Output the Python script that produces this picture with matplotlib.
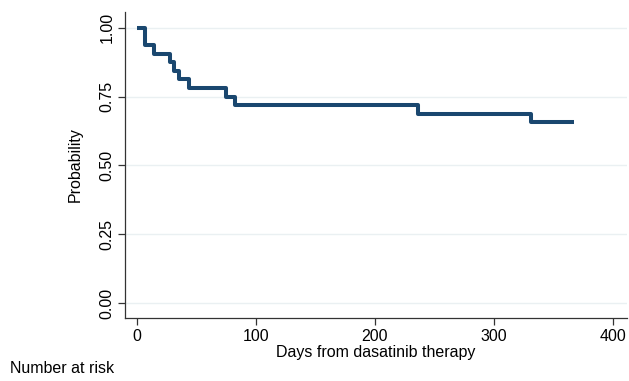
import matplotlib
matplotlib.use("Agg")
import matplotlib.pyplot as plt

# Kaplan-Meier estimate
days = [0, 7, 14, 28, 31, 35, 44, 75, 82, 236, 331, 367]
surv = [1.0, 0.9375, 0.906, 0.875, 0.844, 0.8125, 0.781, 0.75, 0.719, 0.6875, 0.656, 0.656]
yticks = [0.0, 0.25, 0.5, 0.75, 1.0]
ytick_labels = ["0.00", "0.25", "0.50", "0.75", "1.00"]
xticks = [0, 100, 200, 300, 400]

plt.rcParams['font.family'] = ['Liberation Sans', 'DejaVu Sans']

fig = plt.figure(figsize=(6.29, 3.81), dpi=100)
ax = fig.add_axes([0.199, 0.165, 0.798, 0.804])

navy = "#1a476f"
axcol = "#333333"

ax.step(days, surv, where="post", color=navy, lw=2.9, solid_capstyle="butt", zorder=3)

ax.set_xlim(-10, 412)
ax.set_ylim(-0.055, 1.058)
ax.set_yticks(yticks)
ax.set_yticklabels(ytick_labels, rotation=90, va="center")
ax.set_xticks(xticks)
for y in yticks:
    ax.axhline(y, color="#eaf0f2", lw=1.0, zorder=1)

for s in ["top", "right"]:
    ax.spines[s].set_visible(False)
for s in ["left", "bottom"]:
    ax.spines[s].set_color(axcol)
    ax.spines[s].set_linewidth(0.9)
ax.tick_params(direction="out", length=5, width=0.9, color=axcol, labelsize=11.5, labelcolor="black", pad=2.5)

ax.set_xlabel("Days from dasatinib therapy", fontsize=11.5, labelpad=1)
ax.set_ylabel("Probability", fontsize=11.5, labelpad=12)

fig.text(0.016, 0.032, "Number at risk", fontsize=11.5, ha="left", va="center")

fig.savefig("out.png", dpi=100, facecolor="white")
